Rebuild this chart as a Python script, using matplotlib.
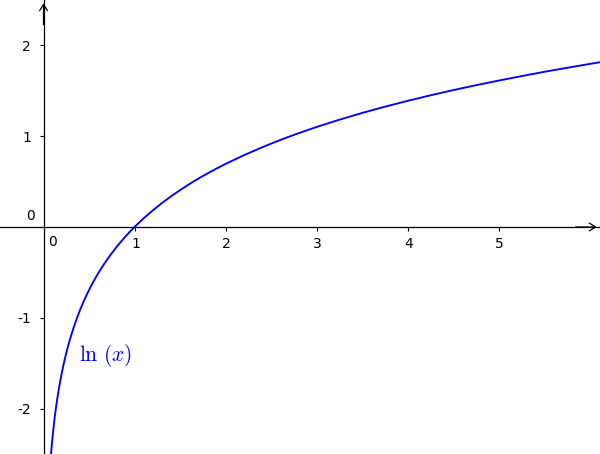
import matplotlib
matplotlib.use("Agg")
import matplotlib.pyplot as plt
import matplotlib.transforms as mtrans

# curve points (x, ln x)
curve_x = [0.082, 0.086, 0.09, 0.095, 0.1, 0.105, 0.11, 0.12, 0.13, 0.14, 0.15, 0.16,
           0.17, 0.18, 0.19, 0.2, 0.22, 0.24, 0.26, 0.28, 0.3, 0.33, 0.36, 0.4, 0.44,
           0.48, 0.52, 0.56, 0.6, 0.65, 0.7, 0.75, 0.8, 0.85, 0.9, 0.95, 1.0, 1.1, 1.2,
           1.3, 1.4, 1.5, 1.6, 1.7, 1.8, 1.9, 2.0, 2.2, 2.4, 2.6, 2.8, 3.0, 3.25, 3.5,
           3.75, 4.0, 4.25, 4.5, 4.75, 5.0, 5.25, 5.5, 5.75, 6.0, 6.12]
curve_y = [-2.501, -2.453, -2.408, -2.354, -2.303, -2.254, -2.207, -2.120, -2.040, -1.966,
           -1.897, -1.833, -1.772, -1.715, -1.661, -1.609, -1.514, -1.427, -1.347, -1.273,
           -1.204, -1.109, -1.022, -0.916, -0.821, -0.734, -0.654, -0.580, -0.511, -0.431,
           -0.357, -0.288, -0.223, -0.163, -0.105, -0.051, 0.0, 0.095, 0.182, 0.262, 0.336,
           0.405, 0.470, 0.531, 0.588, 0.642, 0.693, 0.788, 0.875, 0.956, 1.030, 1.099,
           1.179, 1.253, 1.322, 1.386, 1.447, 1.504, 1.558, 1.609, 1.658, 1.705, 1.749,
           1.792, 1.812]
x_ticks = [1, 2, 3, 4, 5]
x_tick_labels = ["1", "2", "3", "4", "5"]
y_ticks = [-2, -1, 1, 2]
y_tick_labels = ["-2", "-1", "1", "2"]
curve_label = r"$\ln\,(x)$"

plt.rcParams['mathtext.fontset'] = 'cm'
fig = plt.figure(figsize=(6.0, 4.54), dpi=100)
ax = fig.add_axes([0, 0, 1, 1])
x0, x1 = -0.478, 6.115
y0, y1 = -2.495, 2.495
ax.set_xlim(x0, x1)
ax.set_ylim(y0, y1)

ax.plot(curve_x, curve_y, color=(0, 0, 1), lw=1.35, solid_joinstyle='round', zorder=3)

for s in ['top', 'right']:
    ax.spines[s].set_visible(False)
ax.spines['left'].set_position(('data', 0))
ax.spines['bottom'].set_position(('data', 0))
for s in ['left', 'bottom']:
    ax.spines[s].set_linewidth(0.9)
    ax.spines[s].set_color('black')

ax.set_xticks(x_ticks)
ax.set_yticks(y_ticks)
ax.set_yticklabels(y_tick_labels)
ax.set_xticklabels(x_tick_labels, ha='left')
ax.tick_params(axis='both', direction='out', length=3, width=0.8, labelsize=10,
               colors='black')
ax.tick_params(axis='x', pad=4)
ax.tick_params(axis='y', pad=6)
offset = mtrans.ScaledTranslation(-2.5/72, 0, fig.dpi_scale_trans)
for lbl in ax.get_xticklabels():
    lbl.set_transform(lbl.get_transform() + offset)

# zero labels
ax.text(0.05, -0.09, "0", fontsize=10, ha='left', va='top')
ax.text(-0.10, 0.04, "0", fontsize=10, ha='right', va='bottom')

# arrow heads
ax.annotate('', xy=(x1 - 0.005, 0), xytext=(x1 - 0.3, 0),
            arrowprops=dict(arrowstyle='->,head_length=0.45,head_width=0.28', lw=0.9, color='black'))
ax.annotate('', xy=(0, y1 - 0.005), xytext=(0, y1 - 0.3),
            arrowprops=dict(arrowstyle='->,head_length=0.45,head_width=0.28', lw=0.9, color='black'))

ax.text(0.39, -1.41, curve_label, color=(0, 0, 1), fontsize=15.5, ha='left', va='center')

fig.savefig("out.png", dpi=100)
